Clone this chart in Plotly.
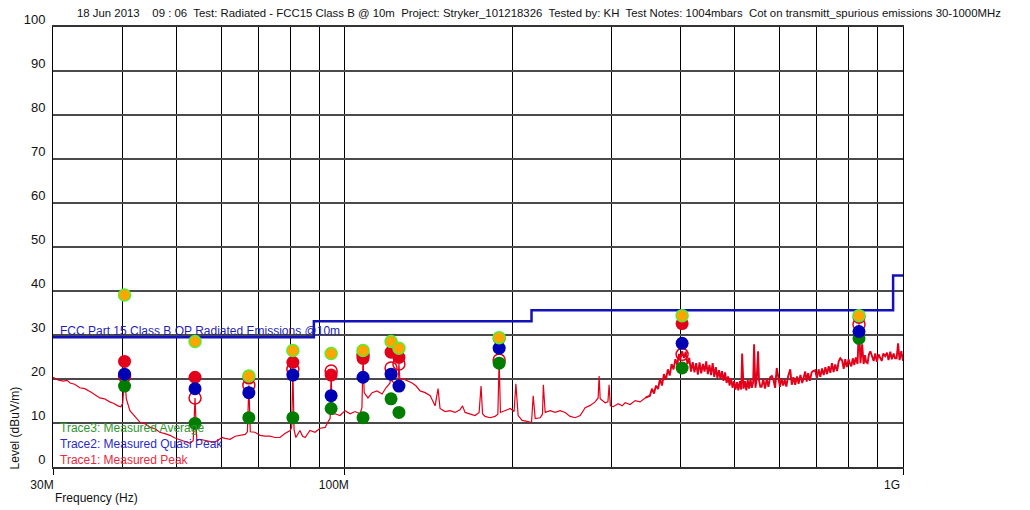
import math
import plotly.graph_objects as go

# ---------------- data ----------------
# Trace1: measured peak spectrum, frequency in MHz, level in dBuV/m
trace_freq = [
    30.0, 30.6, 31.3, 31.8, 32.2, 32.8, 33.5, 34.2, 35.0, 35.7,
    36.4, 37.1, 37.9, 38.5, 39.2, 39.7, 40.0, 40.3, 40.6, 41.2,
    42.0, 43.0, 43.9, 44.8, 45.7, 46.6, 47.6, 48.6, 49.6, 50.7,
    51.7, 52.8, 53.5, 53.9, 54.3, 55.0, 56.1, 57.3, 58.3, 59.3,
    60.2, 61.0, 62.3, 63.6, 65.0, 66.3, 66.9, 67.3, 67.7, 69.0,
    70.5, 72.0, 73.4, 75.0, 76.5, 78.1, 79.8, 80.3, 80.7, 81.1,
    81.7, 83.1, 84.0, 84.9, 86.6, 88.4, 90.3, 92.2, 93.5, 94.1,
    94.5, 94.9, 96.1, 98.0, 100.1, 102.2, 104.3, 106.5, 107.3, 107.8,
    108.3, 108.7, 110.0, 111.9, 114.2, 116.6, 118.5, 120.5, 121.0, 121.5,
    123.1, 124.5, 125.0, 125.5, 127.2, 129.8, 132.0, 134.2, 136.4, 139.3,
    142.2, 145.1, 146.9, 148.1, 151.2, 154.3, 157.6, 160.8, 162.5, 164.2,
    167.6, 171.1, 174.0, 175.4, 176.5, 178.3, 182.0, 185.8, 188.0, 189.0,
    190.0, 193.7, 197.8, 201.0, 202.5, 204.4, 207.8, 213.0, 216.0, 217.5,
    219.3, 223.8, 226.0, 226.8, 228.5, 233.3, 238.1, 243.1, 248.1, 253.3,
    258.6, 264.0, 269.5, 275.1, 280.8, 284.3, 285.5, 286.7, 292.7, 296.0,
    297.5, 299.0, 302.5, 308.8, 313.9, 317.8, 324.4, 331.2, 338.1, 345.2,
    352, 355, 358, 361, 364, 367, 370, 373, 376, 379,
    382, 385, 388, 391, 394, 397, 399, 402, 405, 408,
    411, 414, 417, 420, 423, 426, 429, 432, 435, 438,
    441, 444, 447, 450, 453, 456, 459, 462, 465, 468,
    471, 474, 477, 480, 483, 486, 489, 492, 495, 498,
    501, 504, 507, 510, 513, 515, 518, 521, 524, 527,
    530, 533, 536, 539, 541, 544, 547, 550, 552, 555,
    558, 562, 566, 570, 574, 578, 582, 586, 590, 594,
    598, 602, 606, 610, 614, 618, 622, 628, 632, 636,
    641, 646, 650, 655, 660, 664, 668, 672, 676, 681,
    686, 690, 696, 701, 706, 711, 716, 721, 726, 731,
    736, 741, 746, 751, 756, 762, 767, 772, 778, 783,
    788, 793, 799, 804, 808, 813, 818, 823, 829, 834,
    839, 845, 850, 855, 859, 864, 869, 874, 880, 886,
    892, 898, 904, 910, 916, 922, 929, 936, 942, 949,
    955, 962, 968, 974, 980, 986, 993, 1000,
]
trace_level = [
    20.4, 19.8, 19.5, 19.7, 19.1, 18.8, 18.0, 17.8, 17.1, 16.4,
    15.7, 15.5, 14.8, 14.5, 13.9, 13.7, 14.5, 20.6, 15.5, 12.8,
    11.5, 10.1, 9.8, 9.0, 8.7, 7.9, 7.6, 7.2, 6.6, 6.1,
    5.8, 5.4, 6.0, 15.7, 6.0, 6.3, 6.1, 5.8, 5.6, 6.1,
    6.7, 6.5, 6.3, 7.0, 7.2, 7.4, 8.0, 18.6, 8.0, 7.9,
    7.2, 7.0, 7.0, 6.7, 6.7, 7.6, 8.3, 9.0, 22.2, 8.5,
    6.7, 8.3, 7.0, 6.7, 8.3, 7.9, 8.8, 9.0, 10.5, 11.0,
    21.8, 12.0, 12.1, 11.7, 12.8, 12.1, 12.6, 12.1, 13.5, 25.4,
    17.0, 16.6, 15.7, 16.9, 17.3, 16.6, 18.0, 19.1, 22.5, 19.5,
    18.9, 19.5, 23.4, 19.8, 20.0, 19.6, 19.1, 18.4, 17.3, 16.9,
    16.2, 13.9, 17.8, 13.3, 12.6, 12.8, 12.4, 13.0, 13.9, 12.4,
    12.1, 11.7, 12.4, 18.4, 12.1, 11.5, 11.2, 11.5, 12.0, 24.3,
    12.4, 12.8, 13.3, 12.6, 18.9, 11.7, 10.6, 10.3, 10.1, 16.2,
    11.0, 11.2, 12.0, 18.7, 12.4, 12.8, 12.4, 12.8, 12.4, 11.5,
    11.2, 11.7, 13.5, 14.0, 14.8, 15.7, 20.7, 15.5, 14.6, 14.8,
    18.7, 13.9, 13.7, 14.4, 13.9, 14.6, 14.2, 15.1, 14.8, 15.7,
    16.2, 17.8, 16.7, 18.5, 17.7, 20.0, 18.5, 21.1, 19.8, 22.2,
    20.8, 23.4, 22.2, 24.5, 23.2, 25.7, 24.4, 26.3, 24.8, 26.2,
    23.4, 24.8, 21.7, 23.8, 21.5, 23.6, 21.0, 23.8, 21.3, 23.4,
    21.7, 24.0, 21.1, 23.2, 20.9, 23.6, 20.5, 22.7, 20.2, 22.0,
    20.0, 21.8, 19.6, 21.5, 19.1, 20.6, 18.5, 20.2, 18.0, 19.5,
    17.6, 19.3, 17.4, 19.5, 17.6, 25.8, 17.8, 19.5, 17.4, 19.8,
    17.8, 20.0, 18.0, 19.3, 27.9, 18.0, 20.2, 26.3, 19.8, 18.2,
    18.2, 20.0, 17.8, 20.0, 18.2, 20.4, 20.7, 19.8, 18.0, 22.5,
    20.0, 18.2, 20.2, 18.5, 19.8, 18.3, 20.4, 22.2, 18.7, 20.4,
    18.7, 20.6, 18.9, 20.9, 19.1, 20.8, 21.7, 19.4, 21.3, 19.6,
    21.5, 21.8, 22.0, 20.2, 22.2, 20.5, 22.4, 20.9, 22.7, 21.1,
    22.9, 21.4, 23.6, 21.6, 23.3, 21.8, 24.0, 24.7, 24.2, 22.3,
    24.5, 22.7, 24.5, 23.4, 22.9, 24.7, 23.2, 24.9, 23.4, 32.4,
    23.6, 27.9, 23.4, 25.4, 23.8, 23.6, 25.6, 26.3, 25.4, 24.1,
    25.8, 23.9, 25.6, 24.6, 24.1, 25.8, 25.2, 26.0, 24.3, 26.2,
    24.5, 25.8, 24.7, 24.7, 28.1, 24.3, 26.3, 24.1,
]

# FCC Part 15 Class B QP limit @10m (step start frequencies, MHz)
limit_freq = [30, 88, 216, 960, 1000]
limit_level = [29.5, 33.1, 35.6, 43.5, 43.5]

# Marker readings at the measured emission frequencies (MHz)
marker_freq = [40.3, 53.9, 67.3, 80.7, 94.5, 107.8, 121.0, 125.0, 189.0, 402.0, 834.0]
peak_list_level = [39.1, 28.5, 20.7, 26.5, 25.8, 26.5, 28.5, 27.0, 29.4, 34.4, 34.4]
peak_level = [24.0, 20.4, 20.2, 23.8, 20.9, 24.7, 26.1, 24.9, 29.2, 32.6, 34.0]
peak_open_level = [20.6, 15.7, 18.6, 22.2, 21.8, 25.4, 22.5, 23.4, 24.3, 25.6, 32.4]
qp_level = [21.1, 17.8, 16.9, 20.9, 16.2, 20.4, 21.1, 18.4, 27.0, 28.1, 30.8]
avg_level = [18.4, 9.9, 11.2, 11.2, 13.3, 11.2, 15.5, 12.4, 23.6, 22.5, 29.2]

x_ticks = [30, 100, 1000]
x_tick_text = ["30M", "100M", "1G"]
x_minor = [40, 50, 60, 70, 80, 90, 200, 300, 400, 500, 600, 700, 800, 900]
y_ticks = list(range(0, 101, 10))

title_text = ("18 Jun 2013\u00a0\u00a0\u00a0 09 : 06\u00a0 Test: Radiated - FCC15 Class B @ 10m\u00a0 "
              "Project: Stryker_101218326\u00a0 Tested by: KH\u00a0 Test Notes: 1004mbars\u00a0 "
              "Cot on transmitt_spurious emissions 30-1000MHz")
legend_labels = ["Trace3: Measured Average", "Trace2: Measured Quasi Peak", "Trace1: Measured Peak"]
limit_label = "FCC Part 15 Class B QP Radiated Emissions @10m"

# ---------------- style ----------------
RED = "#e3001b"
BLUE = "#0000b4"
GREEN = "#007d00"
REG = "Liberation Sans, Arial, sans-serif"

# the dense upper band of the spectrum is drawn a little heavier
split = next(i for i, f in enumerate(trace_freq) if f >= 345)

fig = go.Figure()

fig.add_trace(go.Scatter(x=limit_freq, y=limit_level, mode="lines", line_shape="hv",
                         line=dict(color="#1212b8", width=2.5), hoverinfo="skip"))
fig.add_trace(go.Scatter(x=trace_freq[:split + 1], y=trace_level[:split + 1], mode="lines",
                         line=dict(color=RED, width=1.2)))
fig.add_trace(go.Scatter(x=trace_freq[split:], y=trace_level[split:], mode="lines",
                         line=dict(color=RED, width=1.9)))
fig.add_trace(go.Scatter(x=marker_freq, y=peak_open_level, mode="markers",
                         marker=dict(symbol="circle-open", size=12, color=RED, line=dict(width=1.5, color=RED))))
fig.add_trace(go.Scatter(x=marker_freq, y=peak_level, mode="markers",
                         marker=dict(size=13, color=RED, line=dict(width=0))))
fig.add_trace(go.Scatter(x=marker_freq, y=avg_level, mode="markers",
                         marker=dict(size=13, color=GREEN, line=dict(width=0))))
fig.add_trace(go.Scatter(x=marker_freq, y=qp_level, mode="markers",
                         marker=dict(size=13, color=BLUE, line=dict(width=0))))
fig.add_trace(go.Scatter(x=marker_freq, y=peak_list_level, mode="markers",
                         marker=dict(size=12, color="#ffa500", line=dict(width=1.5, color="#55ee33"))))

fig.update_layout(
    width=1030, height=510,
    margin=dict(l=53, r=127, t=22, b=43),
    plot_bgcolor="white", paper_bgcolor="white",
    showlegend=False,
    title=dict(text=title_text, x=77 / 1030, xanchor="left", xref="container",
               y=1 - 13 / 510, yanchor="middle", yref="container",
               font=dict(family=REG, size=11.4, color="#111")),
)

fig.update_xaxes(
    type="log", range=[math.log10(30), 3],
    tickvals=x_ticks, ticktext=x_tick_text,
    ticks="outside", ticklen=6, tickcolor="black", tickwidth=1,
    ticklabelshift=-11,
    tickfont=dict(family=REG, size=12, color="#111"),
    showgrid=True, gridcolor="black", gridwidth=1,
    minor=dict(tickvals=x_minor, showgrid=True, gridcolor="black", gridwidth=1, ticks=""),
    showline=True, linecolor="#333", linewidth=2, mirror=True,
    zeroline=False,
)
fig.update_yaxes(
    range=[0, 100], tickvals=y_ticks,
    ticks="", ticklabelshift=-8, ticklabelstandoff=4,
    tickfont=dict(family=REG, size=13, color="#111"),
    showgrid=True, gridcolor="#4a4a4a", gridwidth=2,
    showline=True, linecolor="black", linewidth=1, mirror=True,
    zeroline=False,
)

# axis titles
fig.add_annotation(text="Frequency (Hz)", xref="paper", yref="paper", x=0, y=-31 / 445,
                   xanchor="left", yanchor="middle", showarrow=False,
                   font=dict(family=REG, size=12, color="#111"))
fig.add_annotation(text="Level (dBuV/m)", xref="paper", yref="paper", x=-38 / 850, y=39 / 445,
                   xanchor="center", yanchor="middle", textangle=-90, showarrow=False,
                   font=dict(family=REG, size=12, color="#111"))

# in-plot legend text
legend_colors = ["#2e962e", "#2a2ac8", "#e8283c"]
legend_y = [39 / 445, 23 / 445, 7 / 445]
for lab, col, yy in zip(legend_labels, legend_colors, legend_y):
    fig.add_annotation(text=lab, xref="paper", yref="paper", x=5 / 850, y=yy,
                       xanchor="left", yanchor="middle", showarrow=False,
                       font=dict(family=REG, size=12, color=col))

# limit line label
fig.add_annotation(text=limit_label, xref="paper", yref="paper", x=5 / 850, y=138 / 445,
                   xanchor="left", yanchor="middle", showarrow=False,
                   font=dict(family=REG, size=12, color="#1f1fb4"))

fig.write_html("out.html", config={"displayModeBar": False},
               post_script="document.body.style.margin='0px';")
